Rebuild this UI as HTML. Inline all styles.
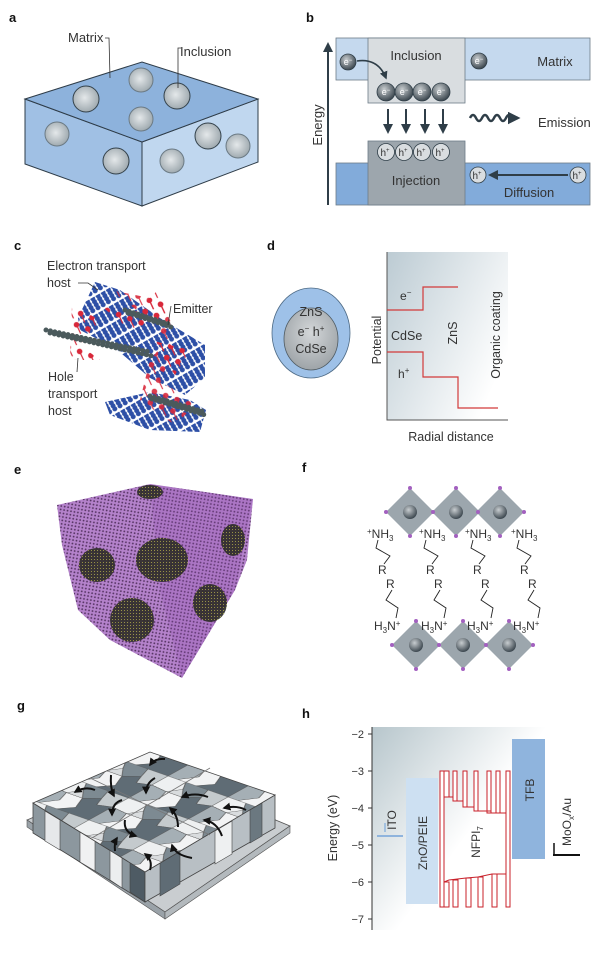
<!DOCTYPE html>
<html><head><meta charset="utf-8"><style>
html,body{margin:0;padding:0;background:#fff}
svg{display:block}
text{font-family:"Liberation Sans",sans-serif;fill:#333}
.pl{font-weight:bold;font-size:13px;fill:#111}
</style></head><body>
<svg width="600" height="957" viewBox="0 0 600 957" xmlns="http://www.w3.org/2000/svg">
<defs>
<radialGradient id="sph" cx="0.45" cy="0.45" r="0.6"><stop offset="0" stop-color="#e4e8ea"/><stop offset="1" stop-color="#9aa5ab"/></radialGradient>
<radialGradient id="dsph" cx="0.4" cy="0.35" r="0.65"><stop offset="0" stop-color="#c8cdd0"/><stop offset="1" stop-color="#3d4850"/></radialGradient>
<radialGradient id="core" cx="0.5" cy="0.4" r="0.6"><stop offset="0" stop-color="#d4d7d9"/><stop offset="1" stop-color="#9ea4a8"/></radialGradient>
<linearGradient id="dbg" x1="0" y1="0" x2="1" y2="0.6"><stop offset="0" stop-color="#bccbd3"/><stop offset="1" stop-color="#fff"/></linearGradient>
<linearGradient id="hbg" x1="0" y1="0" x2="0.8" y2="0.6"><stop offset="0" stop-color="#b7c6cc"/><stop offset="0.7" stop-color="#fff"/></linearGradient>
<pattern id="blue" width="6" height="16" patternUnits="userSpaceOnUse" patternTransform="rotate(-30)">
<rect width="6" height="16" fill="#fff"/>
<line x1="3" y1="1" x2="3" y2="14" stroke="#2d4fa6" stroke-width="5" stroke-linecap="round" stroke-dasharray="0 3.5"/>
</pattern>
<pattern id="red" width="12" height="12" patternUnits="userSpaceOnUse" patternTransform="rotate(20)">
<circle cx="3" cy="3" r="2.8" fill="#d8283a"/><line x1="3" y1="3" x2="10" y2="10" stroke="#d8283a" stroke-width="1.2"/>
</pattern>
<pattern id="purp" width="3.5" height="3.5" patternUnits="userSpaceOnUse" patternTransform="rotate(10)">
<rect width="3.5" height="3.5" fill="#b07bc8"/><circle cx="1.2" cy="1.2" r="0.9" fill="#4e2a5c"/>
</pattern>
<pattern id="yel" width="3" height="3" patternUnits="userSpaceOnUse">
<rect width="3" height="3" fill="#2e2d28"/><circle cx="1.5" cy="1.5" r="0.5" fill="#b8b840"/>
</pattern>
<pattern id="tiles" width="60" height="44" patternUnits="userSpaceOnUse" patternTransform="matrix(1,0.35,-0.9,0.5,0,0)">
<rect width="60" height="44" fill="#d9dcde"/>
<polygon points="0,0 18,0 24,10 16,20 0,18" fill="#eef0f1" stroke="#555" stroke-width="0.6"/>
<polygon points="18,0 40,0 44,12 32,20 24,10" fill="#7d8a92" stroke="#555" stroke-width="0.6"/>
<polygon points="40,0 60,0 60,18 48,22 44,12" fill="#c4cacd" stroke="#555" stroke-width="0.6"/>
<polygon points="0,18 16,20 20,32 10,44 0,44" fill="#a5afb5" stroke="#555" stroke-width="0.6"/>
<polygon points="16,20 32,20 38,34 28,44 10,44 20,32" fill="#f2f3f4" stroke="#555" stroke-width="0.6"/>
<polygon points="32,20 44,12 48,22 60,18 60,44 28,44 38,34" fill="#5f6c75" stroke="#555" stroke-width="0.6"/>
</pattern>
<marker id="ah" viewBox="0 0 10 10" refX="8" refY="5" markerWidth="5" markerHeight="5" orient="auto"><path d="M0,0 L10,5 L0,10 z" fill="#2f3e48"/></marker>
<marker id="ak" viewBox="0 0 10 10" refX="8" refY="5" markerWidth="4" markerHeight="4" orient="auto"><path d="M0,0 L10,5 L0,10 z" fill="#111"/></marker>
</defs>

<!-- Panel a -->
<text class="pl" x="9" y="22">a</text>
<polygon points="25,99 142,142 142,206 25,164" fill="#a0c0e4" stroke="#2e3c48" stroke-width="1"/>
<polygon points="142,142 258,99 258,162 142,206" fill="#c0d7ef" stroke="#2e3c48" stroke-width="1"/>
<polygon points="25,99 142,62 258,99 142,142" fill="#8db2dc" stroke="#2e3c48" stroke-width="1"/>
<g fill="url(#sph)" stroke="#33414a" stroke-width="1">
<circle cx="86" cy="99" r="13"/><circle cx="141" cy="80" r="12" stroke="#6b7a84"/><circle cx="177" cy="96" r="13"/><circle cx="141" cy="119" r="12" stroke="#6b7a84"/>
<circle cx="57" cy="134" r="12" stroke="#6b7a84"/><circle cx="116" cy="161" r="13"/><circle cx="172" cy="161" r="12" stroke="#6b7a84"/><circle cx="208" cy="136" r="13"/><circle cx="238" cy="146" r="12" stroke="#6b7a84"/>
</g>
<text x="68" y="42" font-size="13">Matrix</text>
<polyline points="105,38 109,38 110,78" fill="none" stroke="#333" stroke-width="0.8"/>
<text x="180" y="56" font-size="13">Inclusion</text>
<polyline points="181,48 178,48 178,88" fill="none" stroke="#333" stroke-width="0.8"/>

<!-- Panel b -->
<text class="pl" x="306" y="22">b</text>
<line x1="328" y1="205" x2="328" y2="44" stroke="#2f3e48" stroke-width="2" marker-end="url(#ah)"/>
<text transform="translate(322,125) rotate(-90)" text-anchor="middle" font-size="13">Energy</text>
<rect x="336" y="38" width="254" height="42" fill="#c5d9ee" stroke="#6d7c88" stroke-width="0.8"/>
<rect x="368" y="38" width="97" height="65" fill="#d9dde0" stroke="#6d7c88" stroke-width="0.8"/>
<rect x="336" y="163" width="254" height="42" fill="#82abda" stroke="#6d7c88" stroke-width="0.8"/>
<rect x="368" y="141" width="97" height="64" fill="#9da6ad" stroke="#6d7c88" stroke-width="0.8"/>
<text x="416" y="60" font-size="13" text-anchor="middle">Inclusion</text>
<text x="555" y="66" font-size="13" text-anchor="middle">Matrix</text>
<text x="416" y="185" font-size="13" text-anchor="middle">Injection</text>
<text x="529" y="197" font-size="13" text-anchor="middle">Diffusion</text>
<g fill="url(#dsph)" stroke="#2f3e48" stroke-width="0.8">
<circle cx="348" cy="62" r="8"/><circle cx="479" cy="61" r="8"/>
<circle cx="386" cy="92" r="9"/><circle cx="404" cy="92" r="9"/><circle cx="422" cy="92" r="9"/><circle cx="441" cy="92" r="9"/>
</g>
<g font-size="9" text-anchor="middle">
<text x="348" y="65" style="fill:#fff">e<tspan font-size="6" dy="-3">−</tspan></text>
<text x="479" y="64" style="fill:#fff">e<tspan font-size="6" dy="-3">−</tspan></text>
<text x="386" y="95" style="fill:#fff">e<tspan font-size="6" dy="-3">−</tspan></text>
<text x="404" y="95" style="fill:#fff">e<tspan font-size="6" dy="-3">−</tspan></text>
<text x="422" y="95" style="fill:#fff">e<tspan font-size="6" dy="-3">−</tspan></text>
<text x="441" y="95" style="fill:#fff">e<tspan font-size="6" dy="-3">−</tspan></text>
</g>
<path d="M357,61 Q378,58 386,78" fill="none" stroke="#2f3e48" stroke-width="1.6" marker-end="url(#ah)"/>
<g stroke="#2f3e48" stroke-width="2" marker-end="url(#ah)">
<line x1="388" y1="109" x2="388" y2="132"/><line x1="406" y1="109" x2="406" y2="132"/><line x1="425" y1="109" x2="425" y2="132"/><line x1="443" y1="109" x2="443" y2="132"/>
</g>
<path d="M470,118 q3,-6 6,0 t6,0 t6,0 t6,0 t6,0 t6,0 t6,0 l6,0" fill="none" stroke="#2f3e48" stroke-width="2.5" marker-end="url(#ah)"/>
<text x="538" y="127" font-size="13">Emission</text>
<g fill="#d9dde0" stroke="#2f3e48" stroke-width="0.8">
<circle cx="386" cy="152" r="8.5"/><circle cx="404" cy="152" r="8.5"/><circle cx="422" cy="152" r="8.5"/><circle cx="441" cy="152" r="8.5"/>
<circle cx="478" cy="175" r="8"/><circle cx="578" cy="175" r="8"/>
</g>
<g font-size="10" text-anchor="middle">
<text x="385" y="156">h<tspan font-size="6" dy="-4">+</tspan></text><text x="403" y="156">h<tspan font-size="6" dy="-4">+</tspan></text>
<text x="421" y="156">h<tspan font-size="6" dy="-4">+</tspan></text><text x="440" y="156">h<tspan font-size="6" dy="-4">+</tspan></text>
<text x="477" y="179">h<tspan font-size="6" dy="-4">+</tspan></text><text x="577" y="179">h<tspan font-size="6" dy="-4">+</tspan></text>
</g>
<line x1="568" y1="175" x2="490" y2="175" stroke="#2f3e48" stroke-width="2" marker-end="url(#ah)"/>

<!-- Panel c -->
<text class="pl" x="14" y="250">c</text>
<polygon points="95,282 120,290 160,318 205,345 205,378 185,395 150,378 115,348 80,330 78,318" fill="url(#blue)"/>
<polygon points="105,402 150,392 190,400 206,410 200,432 150,430 110,415" fill="url(#blue)"/>
<polygon points="110,290 160,300 175,330 150,360 140,400 175,425 195,405 160,380 175,350 150,320" fill="url(#red)" opacity="0.9"/>
<polygon points="72,305 100,320 80,345 100,360 70,360" fill="url(#red)"/>
<polygon points="100,305 135,312 158,290 170,315 130,330" fill="url(#red)"/>
<polygon points="150,340 190,350 175,375" fill="url(#red)"/>
<g stroke="#4b5a5c" stroke-width="5" stroke-linecap="round" stroke-dasharray="0 4.5">
<line x1="46" y1="330" x2="150" y2="352"/><line x1="50" y1="333" x2="152" y2="356"/>
<line x1="125" y1="310" x2="172" y2="325"/><line x1="128" y1="313" x2="174" y2="328"/>
<line x1="150" y1="396" x2="205" y2="412"/><line x1="152" y1="399" x2="205" y2="415"/>
</g>
<text x="47" y="270" font-size="12.5">Electron transport</text>
<text x="47" y="287" font-size="12.5">host</text>
<polyline points="78,283 88,283 98,290" fill="none" stroke="#333" stroke-width="0.8"/>
<text x="173" y="313" font-size="12.5">Emitter</text>
<line x1="171" y1="306" x2="168" y2="325" stroke="#333" stroke-width="0.8"/>
<text x="48" y="381" font-size="12.5">Hole</text>
<line x1="77" y1="372" x2="78" y2="358" stroke="#333" stroke-width="0.8"/>
<text x="48" y="398" font-size="12.5">transport</text>
<text x="48" y="415" font-size="12.5">host</text>

<!-- Panel d -->
<text class="pl" x="267" y="250">d</text>
<ellipse cx="311" cy="333" rx="39" ry="45" fill="#9ec1e8" stroke="#4e6b86" stroke-width="0.8"/>
<ellipse cx="311" cy="339" rx="27" ry="31" fill="url(#core)" stroke="#4e5a62" stroke-width="0.8"/>
<text x="311" y="316" font-size="12.5" text-anchor="middle">ZnS</text>
<text x="311" y="336" font-size="12.5" text-anchor="middle">e<tspan font-size="8" dy="-5">−</tspan><tspan dy="5"> h</tspan><tspan font-size="8" dy="-5">+</tspan></text>
<text x="311" y="353" font-size="12.5" text-anchor="middle">CdSe</text>
<rect x="387" y="252" width="121" height="168" fill="url(#dbg)"/>
<polyline points="387,252 387,420 508,420" fill="none" stroke="#555" stroke-width="1"/>
<polyline points="387,310 423,310 423,287 458,287" fill="none" stroke="#d23a3a" stroke-width="1.2"/>
<polyline points="387,352 423,352 423,377 458,377 458,408 498,408" fill="none" stroke="#d23a3a" stroke-width="1.2"/>
<text x="400" y="300" font-size="12">e<tspan font-size="8" dy="-5">−</tspan></text>
<text x="391" y="340" font-size="12.5">CdSe</text>
<text x="398" y="378" font-size="12">h<tspan font-size="8" dy="-5">+</tspan></text>
<text transform="translate(457,333) rotate(-90)" font-size="12.5" text-anchor="middle">ZnS</text>
<text transform="translate(500,335) rotate(-90)" font-size="12.5" text-anchor="middle">Organic coating</text>
<text transform="translate(381,340) rotate(-90)" font-size="12.5" text-anchor="middle">Potential</text>
<text x="451" y="441" font-size="12.5" text-anchor="middle">Radial distance</text>

<!-- Panel e -->
<text class="pl" x="14" y="474">e</text>
<polygon points="57,505 150,484 253,499 247,560 235,590 182,678 110,640 78,610 62,545" fill="url(#purp)" opacity="0.95"/>
<polygon points="150,484 253,499 235,590 182,678 160,590" fill="#8e4fae" opacity="0.25"/>
<g fill="url(#yel)" opacity="0.9">
<ellipse cx="162" cy="560" rx="26" ry="22"/><ellipse cx="97" cy="565" rx="18" ry="17"/><ellipse cx="132" cy="620" rx="22" ry="22"/>
<ellipse cx="210" cy="603" rx="17" ry="19"/><ellipse cx="233" cy="540" rx="12" ry="16"/><ellipse cx="150" cy="492" rx="13" ry="7"/>
</g>

<!-- Panel f -->
<text class="pl" x="302" y="472">f</text>
<g fill="#9ca6ad">
<polygon points="410,488 434,512 410,536 386,512"/><polygon points="456,488 480,512 456,536 432,512"/><polygon points="500,488 524,512 500,536 476,512"/>
<polygon points="416,621 440,645 416,669 392,645"/><polygon points="463,621 487,645 463,669 439,645"/><polygon points="509,621 533,645 509,669 485,645"/>
</g>
<g fill="url(#dsph)">
<circle cx="410" cy="512" r="7"/><circle cx="456" cy="512" r="7"/><circle cx="500" cy="512" r="7"/>
<circle cx="416" cy="645" r="7"/><circle cx="463" cy="645" r="7"/><circle cx="509" cy="645" r="7"/>
</g>
<g fill="#a360c0">
<circle cx="410" cy="488" r="2"/><circle cx="456" cy="488" r="2"/><circle cx="500" cy="488" r="2"/>
<circle cx="386" cy="512" r="2"/><circle cx="433" cy="512" r="2"/><circle cx="478" cy="512" r="2"/><circle cx="524" cy="512" r="2"/>
<circle cx="410" cy="536" r="2"/><circle cx="456" cy="536" r="2"/><circle cx="500" cy="536" r="2"/>
<circle cx="416" cy="621" r="2"/><circle cx="463" cy="621" r="2"/><circle cx="509" cy="621" r="2"/>
<circle cx="392" cy="645" r="2"/><circle cx="439" cy="645" r="2"/><circle cx="486" cy="645" r="2"/><circle cx="533" cy="645" r="2"/>
<circle cx="416" cy="669" r="2"/><circle cx="463" cy="669" r="2"/><circle cx="509" cy="669" r="2"/>
</g>
<g font-size="12">
<text x="367" y="538"><tspan font-size="8" dy="-4">+</tspan><tspan dy="4">NH</tspan><tspan font-size="8" dy="3">3</tspan></text>
<text x="419" y="538"><tspan font-size="8" dy="-4">+</tspan><tspan dy="4">NH</tspan><tspan font-size="8" dy="3">3</tspan></text>
<text x="465" y="538"><tspan font-size="8" dy="-4">+</tspan><tspan dy="4">NH</tspan><tspan font-size="8" dy="3">3</tspan></text>
<text x="511" y="538"><tspan font-size="8" dy="-4">+</tspan><tspan dy="4">NH</tspan><tspan font-size="8" dy="3">3</tspan></text>
<text x="378" y="574">R</text><text x="426" y="574">R</text><text x="473" y="574">R</text><text x="520" y="574">R</text>
<text x="386" y="588">R</text><text x="434" y="588">R</text><text x="481" y="588">R</text><text x="528" y="588">R</text>
<text x="374" y="630">H<tspan font-size="8" dy="3">3</tspan><tspan dy="-3">N</tspan><tspan font-size="8" dy="-4">+</tspan></text>
<text x="421" y="630">H<tspan font-size="8" dy="3">3</tspan><tspan dy="-3">N</tspan><tspan font-size="8" dy="-4">+</tspan></text>
<text x="467" y="630">H<tspan font-size="8" dy="3">3</tspan><tspan dy="-3">N</tspan><tspan font-size="8" dy="-4">+</tspan></text>
<text x="513" y="630">H<tspan font-size="8" dy="3">3</tspan><tspan dy="-3">N</tspan><tspan font-size="8" dy="-4">+</tspan></text>
</g>
<g fill="none" stroke="#222" stroke-width="0.9">
<polyline points="378,540 376,548 390,556 384,564"/><polyline points="426,540 424,548 438,556 432,564"/><polyline points="473,540 471,548 485,556 479,564"/><polyline points="519,540 517,548 531,556 525,564"/>
<polyline points="392,590 386,600 398,608 396,618"/><polyline points="440,590 434,600 446,608 444,618"/><polyline points="487,590 481,600 493,608 491,618"/><polyline points="534,590 528,600 540,608 538,618"/>
</g>

<!-- Panel g -->
<text class="pl" x="17" y="710">g</text>
<polygon points="27,820 150,768 290,826 165,912" fill="#c9cdd0" stroke="#555" stroke-width="0.8"/>
<polygon points="27,820 165,912 165,919 27,827" fill="#9aa2a8" stroke="#555" stroke-width="0.6"/>
<polygon points="165,912 290,826 290,833 165,919" fill="#b3b9bd" stroke="#555" stroke-width="0.6"/>
<polygon points="33,803 145,872 145,902 33,833" fill="#8c979e" stroke="#444" stroke-width="0.8"/>
<g stroke="#444" stroke-width="0.6" fill="#e6e8ea">
<polygon points="45,811 60,820 60,850 45,841"/><polygon points="80,832 95,841 95,871 80,862" fill="#f0f1f2"/><polygon points="110,850 122,858 122,888 110,880" fill="#eceeef"/><polygon points="130,862 145,872 145,902 130,892" fill="#4e5b64"/>
</g>
<polygon points="145,872 275,795 275,828 145,902" fill="#b8bfc4" stroke="#444" stroke-width="0.8"/>
<g stroke="#444" stroke-width="0.6" fill="#5f6c75">
<polygon points="160,863 180,851 180,884 160,896"/><polygon points="215,831 232,821 232,854 215,864" fill="#eef0f1"/><polygon points="250,810 262,803 262,836 250,843" fill="#6b7880"/>
</g>
<polygon points="33,803 150,752 275,795 145,872" fill="url(#tiles)" stroke="#444" stroke-width="0.8"/>
<line x1="92" y1="838" x2="210" y2="768" stroke="#777" stroke-width="0.8"/>
<line x1="90" y1="778" x2="210" y2="835" stroke="#777" stroke-width="0.8"/>
<g fill="none" stroke="#111" stroke-width="2" marker-end="url(#ak)">
<path d="M165,759 Q155,758 150,765"/><path d="M95,790 Q85,786 75,792"/><path d="M111,775 Q110,788 114,796"/>
<path d="M155,778 Q146,783 146,793"/><path d="M122,800 Q112,803 112,815"/><path d="M208,797 Q195,792 182,797"/>
<path d="M246,810 Q237,805 224,808"/><path d="M222,836 Q217,822 204,820"/><path d="M125,820 Q123,832 136,836"/>
<path d="M178,827 Q178,815 170,808"/><path d="M192,858 Q175,855 172,845"/><path d="M150,870 Q153,860 145,854"/><path d="M115,851 Q114,843 117,838"/>
</g>

<!-- Panel h -->
<text class="pl" x="302" y="718">h</text>
<rect x="372" y="727" width="200" height="203" fill="url(#hbg)"/>
<line x1="372" y1="727" x2="372" y2="930" stroke="#333" stroke-width="1"/>
<g stroke="#333" stroke-width="1">
<line x1="368" y1="734" x2="372" y2="734"/><line x1="368" y1="771" x2="372" y2="771"/><line x1="368" y1="808" x2="372" y2="808"/>
<line x1="368" y1="845" x2="372" y2="845"/><line x1="368" y1="882" x2="372" y2="882"/><line x1="368" y1="919" x2="372" y2="919"/>
</g>
<g font-size="11" text-anchor="end">
<text x="364" y="738">−2</text><text x="364" y="775">−3</text><text x="364" y="812">−4</text><text x="364" y="849">−5</text><text x="364" y="886">−6</text><text x="364" y="923">−7</text>
</g>
<text transform="translate(337,828) rotate(-90)" font-size="12.5" text-anchor="middle">Energy (eV)</text>
<line x1="377" y1="836" x2="403" y2="836" stroke="#8fb4dd" stroke-width="2"/>
<text transform="translate(396,820) rotate(-90)" font-size="12" text-anchor="middle">ITO</text>
<line x1="385" y1="823" x2="385" y2="832" stroke="#8fb4dd" stroke-width="1.5"/>
<rect x="406" y="778" width="32" height="126" fill="#cde0f2"/>
<text transform="translate(427,843) rotate(-90)" font-size="12" text-anchor="middle">ZnO/PEIE</text>
<g fill="#fff" stroke="#c8202a" stroke-width="1">
<rect x="440" y="771" width="4" height="136"/><rect x="506" y="771" width="4" height="136"/>
<rect x="444" y="771" width="5" height="26"/><rect x="453" y="771" width="4" height="30"/><rect x="463" y="771" width="4" height="36"/>
<rect x="474" y="771" width="4" height="40"/><rect x="487" y="771" width="4" height="42"/><rect x="496" y="771" width="4" height="42"/>
<rect x="444" y="882" width="5" height="25"/><rect x="453" y="880" width="5" height="27"/><rect x="466" y="878" width="5" height="29"/>
<rect x="478" y="877" width="5" height="30"/><rect x="492" y="874" width="5" height="33"/>
</g>
<polyline points="444,797 453,797 453,801 463,801 463,807 474,807 474,811 491,811 491,813 506,813" fill="none" stroke="#c8202a" stroke-width="1"/>
<polyline points="444,882 449,880 466,878 478,877 492,874 506,874" fill="none" stroke="#c8202a" stroke-width="1"/>
<text transform="translate(480,842) rotate(-90)" font-size="12" text-anchor="middle">NFPI<tspan font-size="8" dy="3">7</tspan></text>
<rect x="512" y="739" width="33" height="120" fill="#8fb4dd"/>
<text transform="translate(534,790) rotate(-90)" font-size="12" text-anchor="middle">TFB</text>
<line x1="553" y1="855" x2="580" y2="855" stroke="#111" stroke-width="2"/>
<line x1="554" y1="843" x2="554" y2="855" stroke="#111" stroke-width="1.5"/>
<text transform="translate(571,822) rotate(-90)" font-size="12" text-anchor="middle">MoO<tspan font-size="8" dy="3">x</tspan><tspan dy="-3">/Au</tspan></text>
</svg>
</body></html>
